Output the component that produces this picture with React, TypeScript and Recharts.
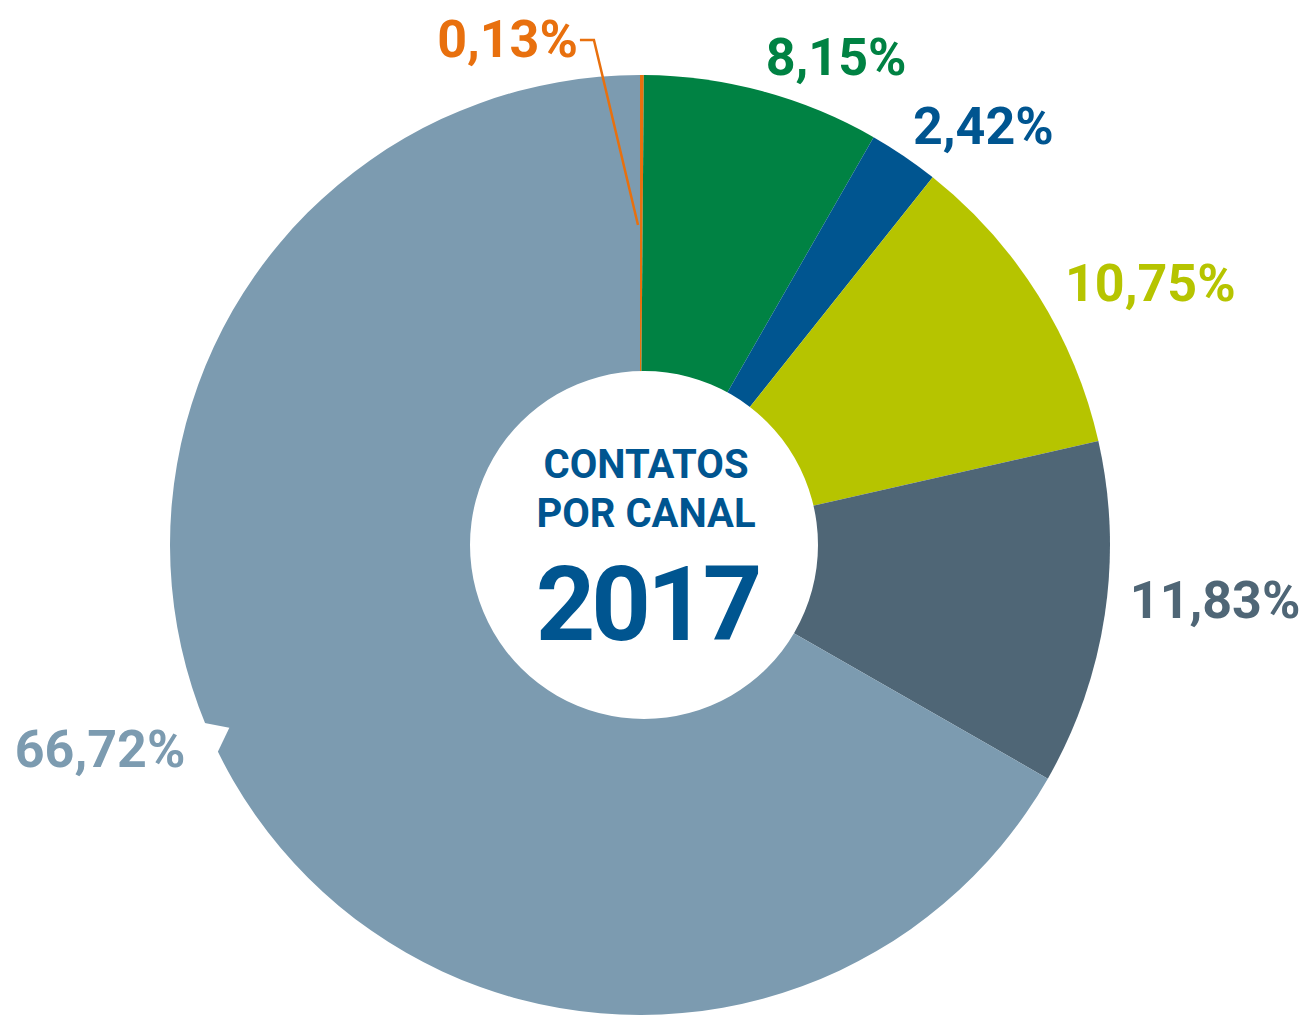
import { PieChart, Pie, Cell } from 'recharts'

const CHANNELS = ['Canal 1', 'Canal 2', 'Canal 3', 'Canal 4', 'Canal 5', 'Canal 6']
const SHARES = [0.13, 8.15, 2.42, 10.75, 11.83, 66.72]
const LABELS = ['0,13%', '8,15%', '2,42%', '10,75%', '11,83%', '66,72%']
const COLORS = ['#E8700E', '#008243', '#005590', '#B6C400', '#4F6676', '#7C9BB0']
const CENTER_LINES = ['CONTATOS', 'POR CANAL']
const YEAR = '2017'

const data = CHANNELS.map((name, i) => ({ name, value: SHARES[i] }))

// label nudges relative to the arc point at the slice's mid angle
const NUDGE: { dx: number; dy: number; anchor: 'start' | 'end' }[] = [
  { dx: -64, dy: -18, anchor: 'end' },
  { dx: 3, dy: -16, anchor: 'start' },
  { dx: 9, dy: -12, anchor: 'start' },
  { dx: 27, dy: 6, anchor: 'start' },
  { dx: 25, dy: 3, anchor: 'start' },
  { dx: -48, dy: -14, anchor: 'end' },
]

const RAD = Math.PI / 180
const FONT = 'Roboto, sans-serif'

function renderLabel(props: any) {
  const { cx, cy, midAngle, outerRadius, index } = props
  const px = cx + outerRadius * Math.cos(-midAngle * RAD)
  const py = cy + outerRadius * Math.sin(-midAngle * RAD)
  const n = NUDGE[index]
  const x = px + n.dx
  const y = py + n.dy
  const color = COLORS[index]
  return (
    <g key={`lbl-${index}`}>
      <text
        x={x}
        y={y}
        textAnchor={n.anchor}
        fill={color}
        fontFamily={FONT}
        fontWeight={700}
        fontSize={52}
      >
        {LABELS[index]}
      </text>
      {index === 0 && (
        <polyline
          points={`${x + 2},${y - 17} ${x + 16},${y - 17} ${cx - 2},${cy - 320}`}
          fill="none"
          stroke={color}
          strokeWidth={2.5}
        />
      )}
      {index === 5 && (
        <polygon
          points={`${px - 30},${py - 58} ${px - 4},${py - 53} ${px - 16},${py - 28}`}
          fill="#ffffff"
        />
      )}
    </g>
  )
}

function renderCenter(props: any) {
  const { cx, cy } = props
  return (
    <g key="center" fontFamily={FONT} fontWeight={700} fill="#005590" textAnchor="middle">
      <text x={cx + 2} y={cy - 67} fontSize={40}>
        {CENTER_LINES[0]}
      </text>
      <text x={cx + 2} y={cy - 18} fontSize={40}>
        {CENTER_LINES[1]}
      </text>
      <text x={cx + 3} y={cy + 95} fontSize={104} letterSpacing={-4}>
        {YEAR}
      </text>
    </g>
  )
}

export default function App() {
  return (
    <div style={{ position: 'absolute', left: 0, top: 0, width: 1303, height: 1017, background: '#fff' }}>
      <PieChart width={1303} height={1017} margin={{ top: 0, right: 0, bottom: 0, left: 0 }}>
        <Pie
          data={data}
          dataKey="value"
          cx={640}
          cy={545}
          outerRadius={470}
          innerRadius={0}
          startAngle={90}
          endAngle={-270}
          stroke="none"
          label={renderLabel}
          labelLine={false}
          isAnimationActive={false}
        >
          {data.map((_, i) => (
            <Cell key={i} fill={COLORS[i]} />
          ))}
        </Pie>
        <Pie
          data={[{ name: 'centro', value: 1 }]}
          dataKey="value"
          cx={644}
          cy={545}
          outerRadius={174}
          stroke="none"
          fill="#ffffff"
          label={renderCenter}
          labelLine={false}
          isAnimationActive={false}
        />
      </PieChart>
    </div>
  )
}
